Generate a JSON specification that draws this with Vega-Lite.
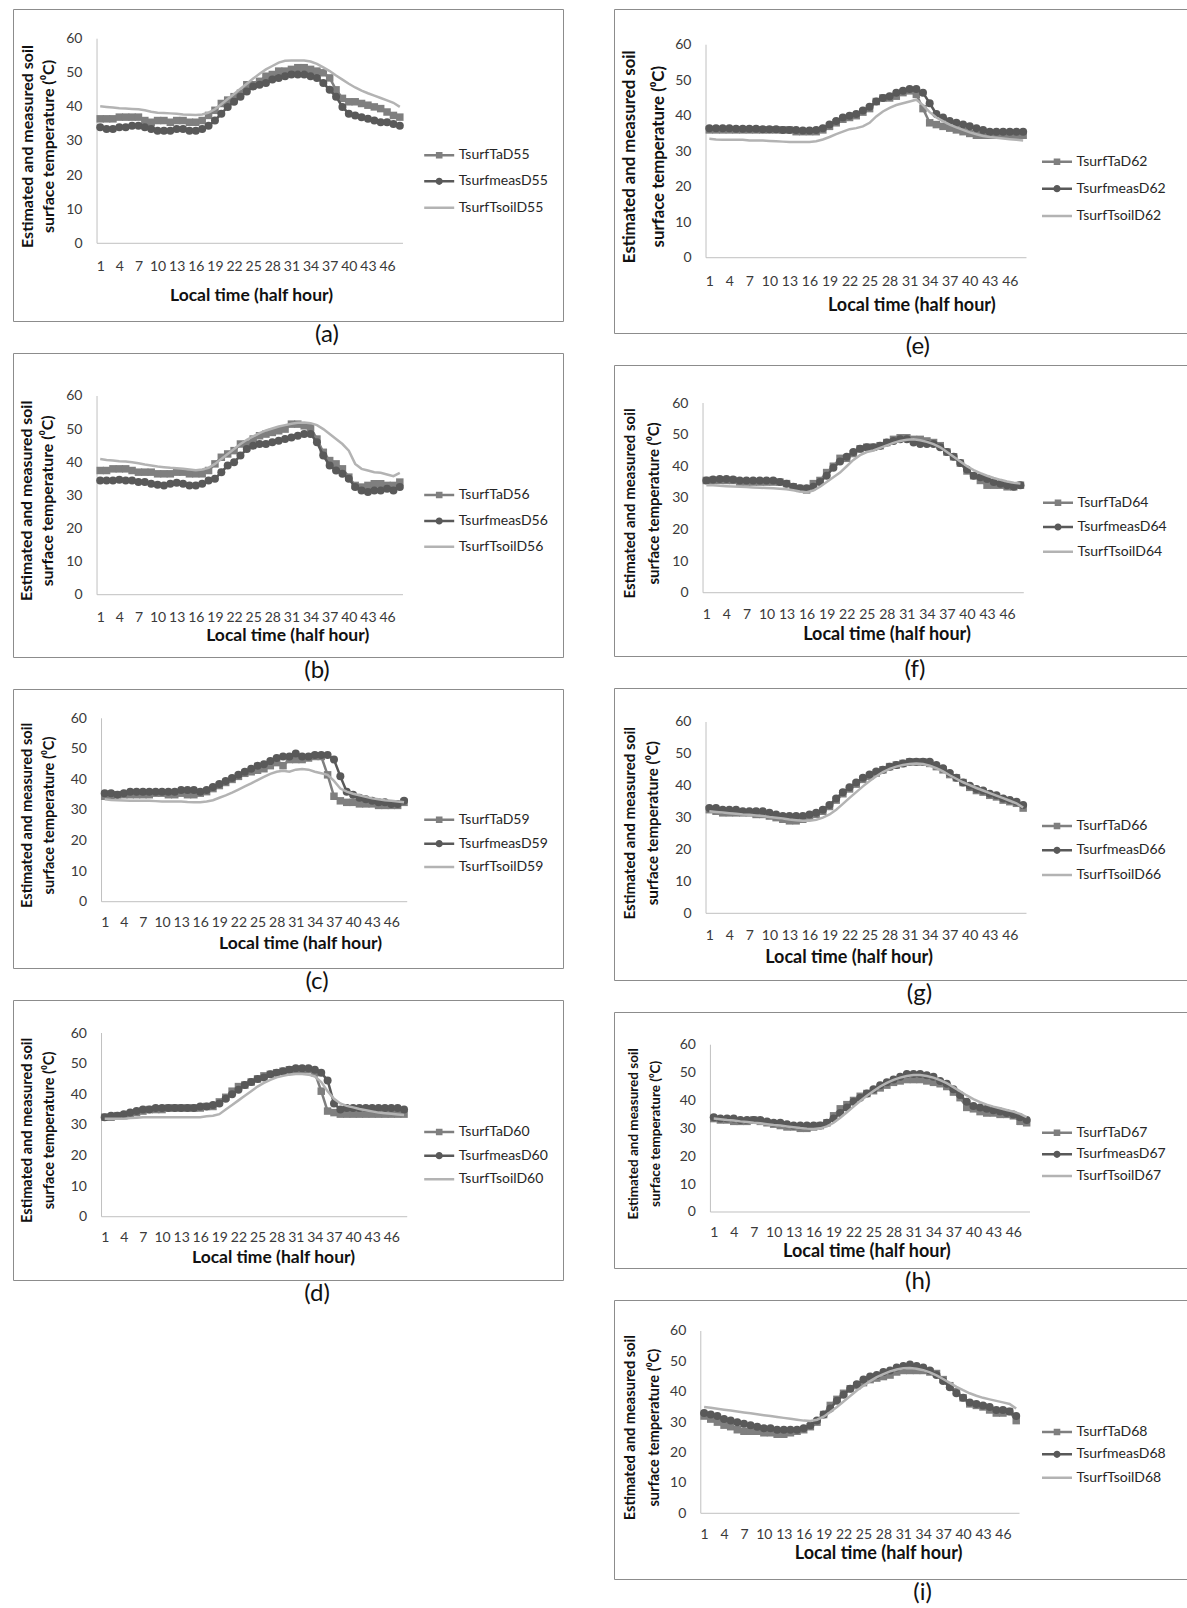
{
"$schema": "https://vega.github.io/schema/vega-lite/v6.json",
"background": "white",
"padding": {"left": 12, "top": 8, "right": 0, "bottom": 0},
"autosize": {"type": "pad"},
"spacing": 49,
"config": {
 "font": "Lato",
 "view": {"stroke": "#8c8c8c", "strokeWidth": 1},
 "axis": {"grid": false, "domain": false, "ticks": false, "labelFont": "Lato", "labelFontSize": 14, "labelColor": "#3a3a3a", "labelOverlap": false, "titleFont": "Lato", "titleFontWeight": "bold", "titleColor": "#111111"},
 "axisX": {"labelAngle": 0, "tickCount": 48},
 "axisY": {"labelPadding": 15},
 "legend": {"padding": 0, "symbolSize": 900, "symbolStrokeWidth": 2.5, "clipHeight": 14, "labelFont": "Lato", "labelFontSize": 14, "labelColor": "#262626", "labelOffset": 3},
 "title": {"font": "Lato", "fontSize": 24, "fontWeight": "normal", "color": "#111111"}
},
"datasets": {
"a": [
{"t":1,"Ta":36.5,"meas":34,"Tsoil":40.2},{"t":2,"Ta":36.5,"meas":33.5,"Tsoil":40},{"t":3,"Ta":36.5,"meas":33.5,"Tsoil":39.8},{"t":4,"Ta":37,"meas":34,"Tsoil":39.6},{"t":5,"Ta":37,"meas":34,"Tsoil":39.5},{"t":6,"Ta":37,"meas":34.5,"Tsoil":39.4},{"t":7,"Ta":37,"meas":34.5,"Tsoil":39.3},{"t":8,"Ta":36,"meas":34,"Tsoil":39},{"t":9,"Ta":35.5,"meas":33.5,"Tsoil":38.6},{"t":10,"Ta":36,"meas":33,"Tsoil":38.3},
{"t":11,"Ta":36,"meas":33,"Tsoil":38.2},{"t":12,"Ta":35.5,"meas":33,"Tsoil":38.1},{"t":13,"Ta":36,"meas":33.5,"Tsoil":38},{"t":14,"Ta":36,"meas":33.5,"Tsoil":37.8},{"t":15,"Ta":35.5,"meas":33,"Tsoil":37.7},{"t":16,"Ta":35.5,"meas":33,"Tsoil":37.6},{"t":17,"Ta":36,"meas":33.5,"Tsoil":37.8},{"t":18,"Ta":37.5,"meas":34.5,"Tsoil":38.3},{"t":19,"Ta":39,"meas":36,"Tsoil":39.3},{"t":20,"Ta":41,"meas":38,"Tsoil":40.8},
{"t":21,"Ta":42,"meas":40,"Tsoil":42.3},{"t":22,"Ta":43,"meas":41.5,"Tsoil":43.8},{"t":23,"Ta":44,"meas":43,"Tsoil":45.3},{"t":24,"Ta":46.5,"meas":44.5,"Tsoil":46.8},{"t":25,"Ta":46.5,"meas":46,"Tsoil":48.3},{"t":26,"Ta":47.5,"meas":46.5,"Tsoil":49.7},{"t":27,"Ta":49,"meas":47,"Tsoil":51},{"t":28,"Ta":49.5,"meas":48,"Tsoil":52},{"t":29,"Ta":50.5,"meas":48.5,"Tsoil":53},{"t":30,"Ta":50.5,"meas":49,"Tsoil":53.5},
{"t":31,"Ta":51,"meas":49.5,"Tsoil":53.6},{"t":32,"Ta":51.5,"meas":49.5,"Tsoil":53.6},{"t":33,"Ta":51.5,"meas":49.5,"Tsoil":53.6},{"t":34,"Ta":51,"meas":49,"Tsoil":53.3},{"t":35,"Ta":50.5,"meas":48.5,"Tsoil":52.6},{"t":36,"Ta":50,"meas":47,"Tsoil":51.6},{"t":37,"Ta":48.5,"meas":45,"Tsoil":50.5},{"t":38,"Ta":45,"meas":43,"Tsoil":49.2},{"t":39,"Ta":42.5,"meas":40,"Tsoil":48},{"t":40,"Ta":41.5,"meas":38,"Tsoil":46.8},
{"t":41,"Ta":41.5,"meas":37.5,"Tsoil":45.7},{"t":42,"Ta":41,"meas":37,"Tsoil":44.8},{"t":43,"Ta":40.5,"meas":36.5,"Tsoil":44},{"t":44,"Ta":40,"meas":36,"Tsoil":43.3},{"t":45,"Ta":39.5,"meas":35.5,"Tsoil":42.6},{"t":46,"Ta":38.5,"meas":35.5,"Tsoil":41.9},{"t":47,"Ta":37.5,"meas":35,"Tsoil":41.2},{"t":48,"Ta":37,"meas":34.5,"Tsoil":40}
],
"b": [
{"t":1,"Ta":37.5,"meas":34.5,"Tsoil":41},{"t":2,"Ta":37.5,"meas":34.5,"Tsoil":40.7},{"t":3,"Ta":38,"meas":34.5,"Tsoil":40.5},{"t":4,"Ta":38,"meas":34.7,"Tsoil":40.3},{"t":5,"Ta":38,"meas":34.5,"Tsoil":40.2},{"t":6,"Ta":37.5,"meas":34.5,"Tsoil":40},{"t":7,"Ta":37,"meas":34,"Tsoil":39.7},{"t":8,"Ta":37,"meas":34,"Tsoil":39.3},{"t":9,"Ta":37,"meas":33.5,"Tsoil":39},{"t":10,"Ta":36.5,"meas":33.2,"Tsoil":38.7},
{"t":11,"Ta":36.5,"meas":33,"Tsoil":38.5},{"t":12,"Ta":36.5,"meas":33.5,"Tsoil":38.3},{"t":13,"Ta":37,"meas":33.8,"Tsoil":38.2},{"t":14,"Ta":37,"meas":33.5,"Tsoil":38},{"t":15,"Ta":36.5,"meas":33,"Tsoil":37.8},{"t":16,"Ta":36.5,"meas":33,"Tsoil":37.6},{"t":17,"Ta":36.5,"meas":33.5,"Tsoil":37.8},{"t":18,"Ta":37.5,"meas":34.5,"Tsoil":38.3},{"t":19,"Ta":39.5,"meas":35,"Tsoil":39.5},{"t":20,"Ta":41.5,"meas":37,"Tsoil":41},
{"t":21,"Ta":42.5,"meas":39,"Tsoil":42.5},{"t":22,"Ta":43.5,"meas":40,"Tsoil":44},{"t":23,"Ta":45.5,"meas":42,"Tsoil":45.5},{"t":24,"Ta":45.5,"meas":44,"Tsoil":46.8},{"t":25,"Ta":47,"meas":45,"Tsoil":47.8},{"t":26,"Ta":48,"meas":45.5,"Tsoil":48.8},{"t":27,"Ta":48.5,"meas":45.5,"Tsoil":49.6},{"t":28,"Ta":49,"meas":46,"Tsoil":50.2},{"t":29,"Ta":49.5,"meas":46.5,"Tsoil":50.8},{"t":30,"Ta":50,"meas":47,"Tsoil":51.2},
{"t":31,"Ta":51.5,"meas":47.5,"Tsoil":51.6},{"t":32,"Ta":51.5,"meas":48,"Tsoil":51.9},{"t":33,"Ta":51,"meas":48.5,"Tsoil":52},{"t":34,"Ta":50.5,"meas":48.5,"Tsoil":51.8},{"t":35,"Ta":47,"meas":46,"Tsoil":51.2},{"t":36,"Ta":43,"meas":42,"Tsoil":50},{"t":37,"Ta":40.5,"meas":39,"Tsoil":48.5},{"t":38,"Ta":39.5,"meas":37.5,"Tsoil":47},{"t":39,"Ta":38,"meas":36.5,"Tsoil":45.5},{"t":40,"Ta":35.5,"meas":35,"Tsoil":43.5},
{"t":41,"Ta":33,"meas":32.5,"Tsoil":39.5},{"t":42,"Ta":32.5,"meas":31.5,"Tsoil":38},{"t":43,"Ta":33,"meas":31,"Tsoil":37.5},{"t":44,"Ta":33.5,"meas":31.5,"Tsoil":37},{"t":45,"Ta":33.5,"meas":31.5,"Tsoil":36.8},{"t":46,"Ta":33,"meas":32,"Tsoil":36.3},{"t":47,"Ta":33,"meas":31.5,"Tsoil":35.8},{"t":48,"Ta":34,"meas":32.5,"Tsoil":36.8}
],
"c": [
{"t":1,"Ta":34.5,"meas":35.5,"Tsoil":33.5},{"t":2,"Ta":34.5,"meas":35.5,"Tsoil":33.3},{"t":3,"Ta":35,"meas":35,"Tsoil":33.2},{"t":4,"Ta":35,"meas":35.5,"Tsoil":33.1},{"t":5,"Ta":35,"meas":36,"Tsoil":33},{"t":6,"Ta":35,"meas":36,"Tsoil":33},{"t":7,"Ta":35,"meas":36,"Tsoil":33},{"t":8,"Ta":35,"meas":36,"Tsoil":33},{"t":9,"Ta":35.5,"meas":36,"Tsoil":32.9},{"t":10,"Ta":35.5,"meas":36,"Tsoil":32.8},
{"t":11,"Ta":35,"meas":36,"Tsoil":32.8},{"t":12,"Ta":35,"meas":36,"Tsoil":32.8},{"t":13,"Ta":35.5,"meas":36.5,"Tsoil":32.8},{"t":14,"Ta":35,"meas":36.5,"Tsoil":32.6},{"t":15,"Ta":35,"meas":36.5,"Tsoil":32.5},{"t":16,"Ta":35.5,"meas":36,"Tsoil":32.5},{"t":17,"Ta":36,"meas":36.5,"Tsoil":32.8},{"t":18,"Ta":37,"meas":37.5,"Tsoil":33.2},{"t":19,"Ta":38,"meas":38.5,"Tsoil":34},{"t":20,"Ta":39,"meas":39.5,"Tsoil":34.8},
{"t":21,"Ta":40,"meas":40.5,"Tsoil":35.7},{"t":22,"Ta":41,"meas":41.5,"Tsoil":36.7},{"t":23,"Ta":42,"meas":42.5,"Tsoil":37.7},{"t":24,"Ta":42.5,"meas":43.5,"Tsoil":38.7},{"t":25,"Ta":43,"meas":44.5,"Tsoil":39.8},{"t":26,"Ta":43.5,"meas":45,"Tsoil":40.8},{"t":27,"Ta":44.5,"meas":46,"Tsoil":41.8},{"t":28,"Ta":45.5,"meas":47,"Tsoil":42.5},{"t":29,"Ta":44.5,"meas":47.5,"Tsoil":42.8},{"t":30,"Ta":46.5,"meas":47.5,"Tsoil":42.5},
{"t":31,"Ta":46.5,"meas":48.5,"Tsoil":43.2},{"t":32,"Ta":46.5,"meas":47.5,"Tsoil":43.4},{"t":33,"Ta":47,"meas":47.5,"Tsoil":43.2},{"t":34,"Ta":47.5,"meas":48,"Tsoil":42.5},{"t":35,"Ta":47.5,"meas":48,"Tsoil":42},{"t":36,"Ta":41.5,"meas":48,"Tsoil":41.5},{"t":37,"Ta":34.5,"meas":46.5,"Tsoil":39.5},{"t":38,"Ta":33,"meas":41,"Tsoil":37},{"t":39,"Ta":32.5,"meas":36,"Tsoil":36},{"t":40,"Ta":32.5,"meas":35,"Tsoil":35.3},
{"t":41,"Ta":32,"meas":34,"Tsoil":34.8},{"t":42,"Ta":32,"meas":33.5,"Tsoil":34.3},{"t":43,"Ta":32,"meas":33,"Tsoil":33.8},{"t":44,"Ta":31.5,"meas":32.5,"Tsoil":33.5},{"t":45,"Ta":31.5,"meas":32.5,"Tsoil":33.2},{"t":46,"Ta":31.5,"meas":32,"Tsoil":33},{"t":47,"Ta":31.5,"meas":32,"Tsoil":32.8},{"t":48,"Ta":32.5,"meas":33,"Tsoil":32.5}
],
"d": [
{"t":1,"Ta":32.5,"meas":32.5,"Tsoil":32},{"t":2,"Ta":32.5,"meas":33,"Tsoil":32},{"t":3,"Ta":33,"meas":33,"Tsoil":32},{"t":4,"Ta":33,"meas":33.5,"Tsoil":32},{"t":5,"Ta":33.5,"meas":34,"Tsoil":32.2},{"t":6,"Ta":34,"meas":34.5,"Tsoil":32.3},{"t":7,"Ta":34.5,"meas":35,"Tsoil":32.5},{"t":8,"Ta":35,"meas":35,"Tsoil":32.5},{"t":9,"Ta":35,"meas":35.5,"Tsoil":32.5},{"t":10,"Ta":35,"meas":35.5,"Tsoil":32.5},
{"t":11,"Ta":35.5,"meas":35.5,"Tsoil":32.5},{"t":12,"Ta":35.5,"meas":35.5,"Tsoil":32.5},{"t":13,"Ta":35.5,"meas":35.5,"Tsoil":32.5},{"t":14,"Ta":35.5,"meas":35.5,"Tsoil":32.5},{"t":15,"Ta":35.5,"meas":35.5,"Tsoil":32.5},{"t":16,"Ta":35.5,"meas":36,"Tsoil":32.5},{"t":17,"Ta":36,"meas":36,"Tsoil":32.8},{"t":18,"Ta":36,"meas":36.5,"Tsoil":33},{"t":19,"Ta":37.5,"meas":37,"Tsoil":33.5},{"t":20,"Ta":39,"meas":38.5,"Tsoil":35},
{"t":21,"Ta":41,"meas":40,"Tsoil":36.5},{"t":22,"Ta":42.5,"meas":41.5,"Tsoil":38},{"t":23,"Ta":43,"meas":43,"Tsoil":39.5},{"t":24,"Ta":44,"meas":44,"Tsoil":41},{"t":25,"Ta":45,"meas":45,"Tsoil":42.5},{"t":26,"Ta":46,"meas":45.5,"Tsoil":43.7},{"t":27,"Ta":46.5,"meas":46.5,"Tsoil":44.7},{"t":28,"Ta":47,"meas":47,"Tsoil":45.5},{"t":29,"Ta":47.5,"meas":47.5,"Tsoil":46},{"t":30,"Ta":48,"meas":48,"Tsoil":46.4},
{"t":31,"Ta":48,"meas":48.5,"Tsoil":46.6},{"t":32,"Ta":48,"meas":48.5,"Tsoil":46.6},{"t":33,"Ta":48,"meas":48.5,"Tsoil":46.4},{"t":34,"Ta":47,"meas":48,"Tsoil":45.8},{"t":35,"Ta":41,"meas":47,"Tsoil":44},{"t":36,"Ta":34.5,"meas":44.5,"Tsoil":41},{"t":37,"Ta":34,"meas":37,"Tsoil":38.5},{"t":38,"Ta":33.5,"meas":35,"Tsoil":37},{"t":39,"Ta":33.5,"meas":35.5,"Tsoil":36.2},{"t":40,"Ta":33.5,"meas":35.5,"Tsoil":35.7},
{"t":41,"Ta":33.5,"meas":35.5,"Tsoil":35.2},{"t":42,"Ta":33.5,"meas":35.5,"Tsoil":34.8},{"t":43,"Ta":33.5,"meas":35.5,"Tsoil":34.4},{"t":44,"Ta":33.5,"meas":35.5,"Tsoil":34},{"t":45,"Ta":33.5,"meas":35.5,"Tsoil":33.8},{"t":46,"Ta":33.5,"meas":35.5,"Tsoil":33.6},{"t":47,"Ta":33.5,"meas":35.5,"Tsoil":33.4},{"t":48,"Ta":33.5,"meas":35,"Tsoil":33.2}
],
"e": [
{"t":1,"Ta":36,"meas":36.5,"Tsoil":33.5},{"t":2,"Ta":36,"meas":36.5,"Tsoil":33.3},{"t":3,"Ta":36,"meas":36.5,"Tsoil":33.2},{"t":4,"Ta":36,"meas":36.5,"Tsoil":33.2},{"t":5,"Ta":36,"meas":36.3,"Tsoil":33.2},{"t":6,"Ta":36,"meas":36.3,"Tsoil":33.2},{"t":7,"Ta":36,"meas":36.3,"Tsoil":33},{"t":8,"Ta":36,"meas":36.3,"Tsoil":33},{"t":9,"Ta":36,"meas":36.2,"Tsoil":33},{"t":10,"Ta":36,"meas":36.2,"Tsoil":32.9},
{"t":11,"Ta":36,"meas":36.2,"Tsoil":32.8},{"t":12,"Ta":36,"meas":36,"Tsoil":32.7},{"t":13,"Ta":36,"meas":36,"Tsoil":32.6},{"t":14,"Ta":35.5,"meas":36,"Tsoil":32.6},{"t":15,"Ta":35.5,"meas":35.8,"Tsoil":32.6},{"t":16,"Ta":35.5,"meas":35.8,"Tsoil":32.6},{"t":17,"Ta":35.5,"meas":36,"Tsoil":32.8},{"t":18,"Ta":36,"meas":36.5,"Tsoil":33.3},{"t":19,"Ta":37,"meas":37.5,"Tsoil":34},{"t":20,"Ta":38,"meas":38.5,"Tsoil":34.8},
{"t":21,"Ta":39,"meas":39.5,"Tsoil":35.5},{"t":22,"Ta":39.5,"meas":40,"Tsoil":36.2},{"t":23,"Ta":40,"meas":40.5,"Tsoil":36.5},{"t":24,"Ta":41,"meas":41.5,"Tsoil":37},{"t":25,"Ta":42,"meas":42.5,"Tsoil":38},{"t":26,"Ta":44,"meas":44,"Tsoil":39.8},{"t":27,"Ta":45,"meas":45,"Tsoil":41.2},{"t":28,"Ta":45,"meas":45.5,"Tsoil":42.2},{"t":29,"Ta":45.5,"meas":46.5,"Tsoil":43},{"t":30,"Ta":46.5,"meas":47,"Tsoil":43.5},
{"t":31,"Ta":47,"meas":47.5,"Tsoil":44},{"t":32,"Ta":46,"meas":47.5,"Tsoil":44.5},{"t":33,"Ta":42,"meas":46.5,"Tsoil":43},{"t":34,"Ta":38,"meas":43.5,"Tsoil":41},{"t":35,"Ta":37.5,"meas":40.5,"Tsoil":39.5},{"t":36,"Ta":37,"meas":39.5,"Tsoil":38.5},{"t":37,"Ta":36.5,"meas":38.5,"Tsoil":37.5},{"t":38,"Ta":36,"meas":38,"Tsoil":36.7},{"t":39,"Ta":35.5,"meas":37.5,"Tsoil":36},{"t":40,"Ta":35,"meas":37,"Tsoil":35.3},
{"t":41,"Ta":34.5,"meas":36.5,"Tsoil":34.8},{"t":42,"Ta":34.5,"meas":36,"Tsoil":34.3},{"t":43,"Ta":34.5,"meas":35.5,"Tsoil":34},{"t":44,"Ta":34.5,"meas":35.5,"Tsoil":33.8},{"t":45,"Ta":34.5,"meas":35.5,"Tsoil":33.6},{"t":46,"Ta":34.5,"meas":35.5,"Tsoil":33.4},{"t":47,"Ta":34.5,"meas":35.5,"Tsoil":33.2},{"t":48,"Ta":34.5,"meas":35.5,"Tsoil":33}
],
"f": [
{"t":1,"Ta":35.5,"meas":35.5,"Tsoil":34},{"t":2,"Ta":35.5,"meas":35.8,"Tsoil":34},{"t":3,"Ta":35.5,"meas":36,"Tsoil":33.8},{"t":4,"Ta":35.5,"meas":36,"Tsoil":33.7},{"t":5,"Ta":35.5,"meas":35.8,"Tsoil":33.6},{"t":6,"Ta":35,"meas":35.5,"Tsoil":33.5},{"t":7,"Ta":35,"meas":35.5,"Tsoil":33.4},{"t":8,"Ta":35,"meas":35.5,"Tsoil":33.3},{"t":9,"Ta":35,"meas":35.5,"Tsoil":33.2},{"t":10,"Ta":35,"meas":35.5,"Tsoil":33.1},
{"t":11,"Ta":35,"meas":35.5,"Tsoil":33},{"t":12,"Ta":35,"meas":35,"Tsoil":32.9},{"t":13,"Ta":34.5,"meas":34.5,"Tsoil":32.7},{"t":14,"Ta":33.5,"meas":33.5,"Tsoil":32.4},{"t":15,"Ta":33,"meas":33,"Tsoil":32},{"t":16,"Ta":32.5,"meas":33,"Tsoil":31.8},{"t":17,"Ta":34.5,"meas":33.5,"Tsoil":32.3},{"t":18,"Ta":35.5,"meas":35,"Tsoil":33.5},{"t":19,"Ta":38,"meas":37,"Tsoil":35},{"t":20,"Ta":40,"meas":39.5,"Tsoil":36.5},
{"t":21,"Ta":42.5,"meas":41.5,"Tsoil":38},{"t":22,"Ta":42.5,"meas":43,"Tsoil":40},{"t":23,"Ta":44,"meas":44.5,"Tsoil":42},{"t":24,"Ta":45.5,"meas":45.5,"Tsoil":43.5},{"t":25,"Ta":46,"meas":46,"Tsoil":44.5},{"t":26,"Ta":46,"meas":46,"Tsoil":45},{"t":27,"Ta":46.5,"meas":46.5,"Tsoil":45.8},{"t":28,"Ta":47.5,"meas":47.5,"Tsoil":46.6},{"t":29,"Ta":48.5,"meas":48,"Tsoil":47.4},{"t":30,"Ta":49,"meas":48.5,"Tsoil":48},
{"t":31,"Ta":49,"meas":48.5,"Tsoil":48.4},{"t":32,"Ta":48.5,"meas":47.5,"Tsoil":48.5},{"t":33,"Ta":48.5,"meas":47,"Tsoil":48.2},{"t":34,"Ta":48,"meas":47,"Tsoil":47.7},{"t":35,"Ta":47.5,"meas":47,"Tsoil":47},{"t":36,"Ta":46.5,"meas":46,"Tsoil":46},{"t":37,"Ta":44.5,"meas":44.5,"Tsoil":44.5},{"t":38,"Ta":43,"meas":43,"Tsoil":43},{"t":39,"Ta":41,"meas":41,"Tsoil":41.5},{"t":40,"Ta":38.5,"meas":39,"Tsoil":40},
{"t":41,"Ta":37,"meas":37,"Tsoil":38.8},{"t":42,"Ta":35.5,"meas":36.5,"Tsoil":37.8},{"t":43,"Ta":34,"meas":36,"Tsoil":37},{"t":44,"Ta":34,"meas":35,"Tsoil":36.3},{"t":45,"Ta":34,"meas":34.5,"Tsoil":35.7},{"t":46,"Ta":33.5,"meas":34,"Tsoil":35.2},{"t":47,"Ta":33.5,"meas":33.5,"Tsoil":34.8},{"t":48,"Ta":34,"meas":34,"Tsoil":34.5}
],
"g": [
{"t":1,"Ta":32.5,"meas":33,"Tsoil":32},{"t":2,"Ta":32,"meas":33,"Tsoil":31.8},{"t":3,"Ta":31.5,"meas":32.5,"Tsoil":31.6},{"t":4,"Ta":31.5,"meas":32.5,"Tsoil":31.4},{"t":5,"Ta":31.5,"meas":32.5,"Tsoil":31.2},{"t":6,"Ta":31.5,"meas":32,"Tsoil":31},{"t":7,"Ta":31.5,"meas":32,"Tsoil":30.9},{"t":8,"Ta":31,"meas":32,"Tsoil":30.7},{"t":9,"Ta":31,"meas":32,"Tsoil":30.5},{"t":10,"Ta":30.5,"meas":31.5,"Tsoil":30.2},
{"t":11,"Ta":30,"meas":31,"Tsoil":30},{"t":12,"Ta":29.5,"meas":30.5,"Tsoil":29.7},{"t":13,"Ta":29,"meas":30.5,"Tsoil":29.4},{"t":14,"Ta":29,"meas":30.5,"Tsoil":29.2},{"t":15,"Ta":29.5,"meas":30.5,"Tsoil":29},{"t":16,"Ta":30.5,"meas":31,"Tsoil":29},{"t":17,"Ta":31,"meas":31.5,"Tsoil":29.3},{"t":18,"Ta":32,"meas":32.5,"Tsoil":30},{"t":19,"Ta":33.5,"meas":34,"Tsoil":31},{"t":20,"Ta":35.5,"meas":36,"Tsoil":32.5},
{"t":21,"Ta":37.5,"meas":38,"Tsoil":34.3},{"t":22,"Ta":39,"meas":39.5,"Tsoil":36.2},{"t":23,"Ta":40.5,"meas":41,"Tsoil":38},{"t":24,"Ta":42,"meas":42.5,"Tsoil":39.8},{"t":25,"Ta":43,"meas":43.5,"Tsoil":41.5},{"t":26,"Ta":44,"meas":44.5,"Tsoil":43},{"t":27,"Ta":45,"meas":45,"Tsoil":44.3},{"t":28,"Ta":46,"meas":46,"Tsoil":45.3},{"t":29,"Ta":46.5,"meas":46.5,"Tsoil":46},{"t":30,"Ta":47,"meas":47,"Tsoil":46.5},
{"t":31,"Ta":47.5,"meas":47.5,"Tsoil":46.8},{"t":32,"Ta":47.5,"meas":47.5,"Tsoil":47},{"t":33,"Ta":47.5,"meas":47.5,"Tsoil":46.8},{"t":34,"Ta":47,"meas":47.5,"Tsoil":46.3},{"t":35,"Ta":46,"meas":46.5,"Tsoil":45.5},{"t":36,"Ta":45,"meas":45.5,"Tsoil":44.5},{"t":37,"Ta":43.5,"meas":44,"Tsoil":43.3},{"t":38,"Ta":42.5,"meas":42.5,"Tsoil":42.2},{"t":39,"Ta":41,"meas":41,"Tsoil":41.1},{"t":40,"Ta":39.5,"meas":40,"Tsoil":40.2},
{"t":41,"Ta":38.5,"meas":39,"Tsoil":39.3},{"t":42,"Ta":38,"meas":38.5,"Tsoil":38.5},{"t":43,"Ta":37,"meas":37.5,"Tsoil":37.7},{"t":44,"Ta":36.5,"meas":37,"Tsoil":36.9},{"t":45,"Ta":35.5,"meas":36,"Tsoil":36.1},{"t":46,"Ta":35,"meas":35.5,"Tsoil":35.3},{"t":47,"Ta":34.5,"meas":35,"Tsoil":34.5},{"t":48,"Ta":33,"meas":34,"Tsoil":33.2}
],
"h": [
{"t":1,"Ta":33.5,"meas":34,"Tsoil":33.5},{"t":2,"Ta":33,"meas":33.5,"Tsoil":33.3},{"t":3,"Ta":33,"meas":33.5,"Tsoil":33},{"t":4,"Ta":32.5,"meas":33.5,"Tsoil":32.8},{"t":5,"Ta":32.5,"meas":33,"Tsoil":32.5},{"t":6,"Ta":32.5,"meas":33,"Tsoil":32.3},{"t":7,"Ta":33,"meas":33,"Tsoil":32},{"t":8,"Ta":32.5,"meas":33,"Tsoil":31.8},{"t":9,"Ta":32,"meas":32.5,"Tsoil":31.5},{"t":10,"Ta":31.5,"meas":32,"Tsoil":31.2},
{"t":11,"Ta":31,"meas":32,"Tsoil":31},{"t":12,"Ta":30.5,"meas":31.5,"Tsoil":30.7},{"t":13,"Ta":30.5,"meas":31,"Tsoil":30.4},{"t":14,"Ta":30,"meas":31,"Tsoil":30.1},{"t":15,"Ta":30,"meas":31,"Tsoil":29.9},{"t":16,"Ta":30.5,"meas":31,"Tsoil":29.8},{"t":17,"Ta":31,"meas":31,"Tsoil":30},{"t":18,"Ta":32,"meas":32,"Tsoil":30.7},{"t":19,"Ta":34.5,"meas":33.5,"Tsoil":32},{"t":20,"Ta":37,"meas":35.5,"Tsoil":33.8},
{"t":21,"Ta":38.5,"meas":37.5,"Tsoil":35.8},{"t":22,"Ta":40,"meas":39.5,"Tsoil":37.8},{"t":23,"Ta":41.5,"meas":41,"Tsoil":39.8},{"t":24,"Ta":42.5,"meas":42.5,"Tsoil":41.7},{"t":25,"Ta":43.5,"meas":44,"Tsoil":43.4},{"t":26,"Ta":44.5,"meas":45.5,"Tsoil":45},{"t":27,"Ta":45.5,"meas":46.5,"Tsoil":46.3},{"t":28,"Ta":46.5,"meas":47.5,"Tsoil":47.4},{"t":29,"Ta":47,"meas":48.5,"Tsoil":48.2},{"t":30,"Ta":47.5,"meas":49.5,"Tsoil":48.8},
{"t":31,"Ta":47.5,"meas":49.5,"Tsoil":49.1},{"t":32,"Ta":47.5,"meas":49.5,"Tsoil":49.1},{"t":33,"Ta":47,"meas":49,"Tsoil":48.8},{"t":34,"Ta":46.5,"meas":48.5,"Tsoil":48.2},{"t":35,"Ta":46,"meas":47,"Tsoil":47.3},{"t":36,"Ta":45,"meas":46,"Tsoil":46.2},{"t":37,"Ta":43,"meas":44,"Tsoil":44.8},{"t":38,"Ta":41,"meas":42,"Tsoil":43.3},{"t":39,"Ta":37.5,"meas":39.5,"Tsoil":41.8},{"t":40,"Ta":37,"meas":38,"Tsoil":40.5},
{"t":41,"Ta":36,"meas":37.5,"Tsoil":39.4},{"t":42,"Ta":35.5,"meas":37,"Tsoil":38.5},{"t":43,"Ta":35.5,"meas":36.5,"Tsoil":37.8},{"t":44,"Ta":35,"meas":36,"Tsoil":37.2},{"t":45,"Ta":35,"meas":35.5,"Tsoil":36.6},{"t":46,"Ta":34.5,"meas":35,"Tsoil":36},{"t":47,"Ta":32.5,"meas":34,"Tsoil":35.2},{"t":48,"Ta":32,"meas":33,"Tsoil":34}
],
"i": [
{"t":1,"Ta":32,"meas":33,"Tsoil":35},{"t":2,"Ta":31,"meas":32.5,"Tsoil":34.7},{"t":3,"Ta":30,"meas":32,"Tsoil":34.4},{"t":4,"Ta":29,"meas":31,"Tsoil":34.1},{"t":5,"Ta":28.5,"meas":30.5,"Tsoil":33.8},{"t":6,"Ta":27.5,"meas":30,"Tsoil":33.5},{"t":7,"Ta":27,"meas":29.5,"Tsoil":33.2},{"t":8,"Ta":27,"meas":29,"Tsoil":32.9},{"t":9,"Ta":27,"meas":28.5,"Tsoil":32.6},{"t":10,"Ta":26.5,"meas":28,"Tsoil":32.3},
{"t":11,"Ta":26.5,"meas":28,"Tsoil":32},{"t":12,"Ta":26,"meas":27.5,"Tsoil":31.7},{"t":13,"Ta":26,"meas":27.5,"Tsoil":31.4},{"t":14,"Ta":26.5,"meas":27.5,"Tsoil":31.1},{"t":15,"Ta":27,"meas":27.5,"Tsoil":30.8},{"t":16,"Ta":27.5,"meas":28,"Tsoil":30.5},{"t":17,"Ta":28.5,"meas":29,"Tsoil":30.4},{"t":18,"Ta":30,"meas":30.5,"Tsoil":30.8},{"t":19,"Ta":32.5,"meas":32.5,"Tsoil":31.8},{"t":20,"Ta":35.5,"meas":34.5,"Tsoil":33.3},
{"t":21,"Ta":37.5,"meas":37,"Tsoil":35},{"t":22,"Ta":39.5,"meas":39,"Tsoil":36.8},{"t":23,"Ta":41,"meas":41,"Tsoil":38.6},{"t":24,"Ta":42,"meas":42.5,"Tsoil":40.4},{"t":25,"Ta":43,"meas":44,"Tsoil":42},{"t":26,"Ta":44,"meas":45,"Tsoil":43.5},{"t":27,"Ta":44.5,"meas":45.5,"Tsoil":44.8},{"t":28,"Ta":45,"meas":46.5,"Tsoil":45.8},{"t":29,"Ta":45.5,"meas":47,"Tsoil":46.7},{"t":30,"Ta":46.5,"meas":48,"Tsoil":47.3},
{"t":31,"Ta":47,"meas":48.5,"Tsoil":47.7},{"t":32,"Ta":47,"meas":49,"Tsoil":47.8},{"t":33,"Ta":47,"meas":48.5,"Tsoil":47.6},{"t":34,"Ta":47,"meas":48,"Tsoil":47.1},{"t":35,"Ta":46.5,"meas":47,"Tsoil":46.4},{"t":36,"Ta":46,"meas":45.5,"Tsoil":45.4},{"t":37,"Ta":44,"meas":43.5,"Tsoil":44.2},{"t":38,"Ta":42,"meas":41.5,"Tsoil":42.9},{"t":39,"Ta":40,"meas":39.5,"Tsoil":41.6},{"t":40,"Ta":38,"meas":38,"Tsoil":40.5},
{"t":41,"Ta":36,"meas":36.5,"Tsoil":39.5},{"t":42,"Ta":35.5,"meas":36,"Tsoil":38.7},{"t":43,"Ta":35,"meas":35.5,"Tsoil":38},{"t":44,"Ta":34,"meas":35,"Tsoil":37.5},{"t":45,"Ta":33,"meas":34,"Tsoil":37},{"t":46,"Ta":33,"meas":34,"Tsoil":36.5},{"t":47,"Ta":33.5,"meas":33.5,"Tsoil":36},{"t":48,"Ta":30.5,"meas":32,"Tsoil":34.5}
]
},
"hconcat": [
{"spacing": 32, "bounds": "flush", "vconcat": [
{"width": 550, "height": 312,
 "title": {"text": "(a)", "orient": "bottom", "anchor": "middle", "dx": 39, "offset": 2},
 "data": {"name": "a"},
 "transform": [{"fold": ["Ta", "meas", "Tsoil"], "as": ["series", "temp"]}],
 "resolve": {"scale": {"color": "independent"}, "legend": {"color": "independent"}},
 "layer": [
  {"transform": [{"filter": "datum.series==='Ta'"}], "mark": {"type": "line", "strokeWidth": 2.5, "color": "#7f7f7f"}, "encoding": {
   "x": {"field": "t", "type": "quantitative", "scale": {"domain": [-12.68, 73.6], "nice": false, "zero": false}, "axis": {"title": "Local time (half hour)", "offset": -77.7, "values": [1,4,7,10,13,16,19,22,25,28,31,34,37,40,43,46], "tickCount": 48, "labelOverlap": false, "labelPadding": 16, "titleX": 238, "titleY": 51.7, "titleBaseline": "middle", "titleFontSize": 17.5}},
   "y": {"field": "temp", "type": "quantitative", "scale": {"domain": [-22.79, 68.71], "nice": false, "zero": false}, "axis": {"title": ["Estimated and measured soil", "surface temperature (⁰C)"], "offset": -84, "values": [0,10,20,30,40,50,60], "titleX": -69.6, "titleY": 137, "titleBaseline": "middle", "titleAngle": -90, "titleFontSize": 16, "titleLineHeight": 21}}}},
  {"transform": [{"filter": "datum.t===1 && datum.series==='Ta'"}], "mark": {"type": "rule", "strokeWidth": 1, "color": "#c0c0c0"}, "encoding": {"x": {"datum": 0.5, "type": "quantitative"}, "y": {"datum": 0, "type": "quantitative"}, "y2": {"datum": 60}}},
  {"transform": [{"filter": "datum.t===1 && datum.series==='Ta'"}], "mark": {"type": "rule", "strokeWidth": 1, "color": "#c0c0c0"}, "encoding": {"x": {"datum": 0.5, "type": "quantitative"}, "x2": {"datum": 48.5}, "y": {"datum": 0, "type": "quantitative"}}},
  {"transform": [{"filter": "datum.series==='Ta'"}], "mark": {"type": "point", "shape": "square", "size": 56, "filled": true, "opacity": 1}, "encoding": {"x": {"field": "t", "type": "quantitative"}, "y": {"field": "temp", "type": "quantitative"}, "color": {"field": "series", "type": "nominal", "scale": {"domain": ["Ta"], "range": ["#7f7f7f"]}, "legend": {"orient": "none", "title": null, "legendX": 409.7, "legendY": 139.3, "symbolType": "M-1,-0.08L1,-0.08L1,0.08L-1,0.08ZM-0.22,-0.22L0.22,-0.22L0.22,0.22L-0.22,0.22Z", "labelExpr": "'TsurfTaD55'"}}}},
  {"transform": [{"filter": "datum.series==='meas'"}], "mark": {"type": "line", "strokeWidth": 2.5, "color": "#595959"}, "encoding": {"x": {"field": "t", "type": "quantitative"}, "y": {"field": "temp", "type": "quantitative"}}},
  {"transform": [{"filter": "datum.series==='meas'"}], "mark": {"type": "point", "shape": "circle", "size": 64, "filled": true, "opacity": 1}, "encoding": {"x": {"field": "t", "type": "quantitative"}, "y": {"field": "temp", "type": "quantitative"}, "color": {"field": "series", "type": "nominal", "scale": {"domain": ["meas"], "range": ["#595959"]}, "legend": {"orient": "none", "title": null, "legendX": 409.7, "legendY": 165.3, "symbolType": "M-1,-0.08L1,-0.08L1,0.08L-1,0.08ZM0.24,0A0.24,0.24,0,1,1,-0.24,0A0.24,0.24,0,1,1,0.24,0Z", "labelExpr": "'TsurfmeasD55'"}}}},
  {"transform": [{"filter": "datum.series==='Tsoil'"}], "mark": {"type": "line", "strokeWidth": 2.5}, "encoding": {"x": {"field": "t", "type": "quantitative"}, "y": {"field": "temp", "type": "quantitative"}, "color": {"field": "series", "type": "nominal", "scale": {"domain": ["Tsoil"], "range": ["#b3b3b3"]}, "legend": {"orient": "none", "title": null, "legendX": 409.7, "legendY": 191.7, "labelExpr": "'TsurfTsoilD55'"}}}}
 ]
},
{"width": 550, "height": 304,
 "title": {"text": "(b)", "orient": "bottom", "anchor": "middle", "dx": 29, "offset": 2},
 "data": {"name": "b"},
 "transform": [{"fold": ["Ta", "meas", "Tsoil"], "as": ["series", "temp"]}],
 "resolve": {"scale": {"color": "independent"}, "legend": {"color": "independent"}},
 "layer": [
  {"transform": [{"filter": "datum.series==='Ta'"}], "mark": {"type": "line", "strokeWidth": 2.5, "color": "#7f7f7f"}, "encoding": {
   "x": {"field": "t", "type": "quantitative", "scale": {"domain": [-12.68, 73.6], "nice": false, "zero": false}, "axis": {"title": "Local time (half hour)", "offset": -62.3, "values": [1,4,7,10,13,16,19,22,25,28,31,34,37,40,43,46], "tickCount": 48, "labelOverlap": false, "labelPadding": 16, "titleX": 274.2, "titleY": 40.6, "titleBaseline": "middle", "titleFontSize": 17.5}},
   "y": {"field": "temp", "type": "quantitative", "scale": {"domain": [-18.81, 72.98], "nice": false, "zero": false}, "axis": {"title": ["Estimated and measured soil", "surface temperature (⁰C)"], "offset": -84, "values": [0,10,20,30,40,50,60], "titleX": -70.2, "titleY": 147.4, "titleBaseline": "middle", "titleAngle": -90, "titleFontSize": 15.8, "titleLineHeight": 21}}}},
  {"transform": [{"filter": "datum.t===1 && datum.series==='Ta'"}], "mark": {"type": "rule", "strokeWidth": 1, "color": "#c0c0c0"}, "encoding": {"x": {"datum": 0.5, "type": "quantitative"}, "y": {"datum": 0, "type": "quantitative"}, "y2": {"datum": 60}}},
  {"transform": [{"filter": "datum.t===1 && datum.series==='Ta'"}], "mark": {"type": "rule", "strokeWidth": 1, "color": "#c0c0c0"}, "encoding": {"x": {"datum": 0.5, "type": "quantitative"}, "x2": {"datum": 48.5}, "y": {"datum": 0, "type": "quantitative"}}},
  {"transform": [{"filter": "datum.series==='Ta'"}], "mark": {"type": "point", "shape": "square", "size": 56, "filled": true, "opacity": 1}, "encoding": {"x": {"field": "t", "type": "quantitative"}, "y": {"field": "temp", "type": "quantitative"}, "color": {"field": "series", "type": "nominal", "scale": {"domain": ["Ta"], "range": ["#7f7f7f"]}, "legend": {"orient": "none", "title": null, "legendX": 409.7, "legendY": 135, "symbolType": "M-1,-0.08L1,-0.08L1,0.08L-1,0.08ZM-0.22,-0.22L0.22,-0.22L0.22,0.22L-0.22,0.22Z", "labelExpr": "'TsurfTaD56'"}}}},
  {"transform": [{"filter": "datum.series==='meas'"}], "mark": {"type": "line", "strokeWidth": 2.5, "color": "#595959"}, "encoding": {"x": {"field": "t", "type": "quantitative"}, "y": {"field": "temp", "type": "quantitative"}}},
  {"transform": [{"filter": "datum.series==='meas'"}], "mark": {"type": "point", "shape": "circle", "size": 64, "filled": true, "opacity": 1}, "encoding": {"x": {"field": "t", "type": "quantitative"}, "y": {"field": "temp", "type": "quantitative"}, "color": {"field": "series", "type": "nominal", "scale": {"domain": ["meas"], "range": ["#595959"]}, "legend": {"orient": "none", "title": null, "legendX": 409.7, "legendY": 161, "symbolType": "M-1,-0.08L1,-0.08L1,0.08L-1,0.08ZM0.24,0A0.24,0.24,0,1,1,-0.24,0A0.24,0.24,0,1,1,0.24,0Z", "labelExpr": "'TsurfmeasD56'"}}}},
  {"transform": [{"filter": "datum.series==='Tsoil'"}], "mark": {"type": "line", "strokeWidth": 2.5}, "encoding": {"x": {"field": "t", "type": "quantitative"}, "y": {"field": "temp", "type": "quantitative"}, "color": {"field": "series", "type": "nominal", "scale": {"domain": ["Tsoil"], "range": ["#b3b3b3"]}, "legend": {"orient": "none", "title": null, "legendX": 409.7, "legendY": 186.7, "labelExpr": "'TsurfTsoilD56'"}}}}
 ]
},
{"width": 550, "height": 279,
 "title": {"text": "(c)", "orient": "bottom", "anchor": "middle", "dx": 29, "offset": 2},
 "data": {"name": "c"},
 "transform": [{"fold": ["Ta", "meas", "Tsoil"], "as": ["series", "temp"]}],
 "resolve": {"scale": {"color": "independent"}, "legend": {"color": "independent"}},
 "layer": [
  {"transform": [{"filter": "datum.series==='Ta'"}], "mark": {"type": "line", "strokeWidth": 2.5, "color": "#7f7f7f"}, "encoding": {
   "x": {"field": "t", "type": "quantitative", "scale": {"domain": [-13.4, 72.96], "nice": false, "zero": false}, "axis": {"title": "Local time (half hour)", "offset": -66.3, "values": [1,4,7,10,13,16,19,22,25,28,31,34,37,40,43,46], "tickCount": 48, "labelOverlap": false, "labelPadding": 14, "titleX": 287, "titleY": 41.6, "titleBaseline": "middle", "titleFontSize": 17.5}},
   "y": {"field": "temp", "type": "quantitative", "scale": {"domain": [-21.69, 69.58], "nice": false, "zero": false}, "axis": {"title": ["Estimated and measured soil", "surface temperature (⁰C)"], "offset": -88.5, "values": [0,10,20,30,40,50,60], "titleX": -74.3, "titleY": 126, "titleBaseline": "middle", "titleAngle": -90, "titleFontSize": 14.6, "titleLineHeight": 22}}}},
  {"transform": [{"filter": "datum.t===1 && datum.series==='Ta'"}], "mark": {"type": "rule", "strokeWidth": 1, "color": "#c0c0c0"}, "encoding": {"x": {"datum": 0.5, "type": "quantitative"}, "y": {"datum": 0, "type": "quantitative"}, "y2": {"datum": 60}}},
  {"transform": [{"filter": "datum.t===1 && datum.series==='Ta'"}], "mark": {"type": "rule", "strokeWidth": 1, "color": "#c0c0c0"}, "encoding": {"x": {"datum": 0.5, "type": "quantitative"}, "x2": {"datum": 48.5}, "y": {"datum": 0, "type": "quantitative"}}},
  {"transform": [{"filter": "datum.series==='Ta'"}], "mark": {"type": "point", "shape": "square", "size": 56, "filled": true, "opacity": 1}, "encoding": {"x": {"field": "t", "type": "quantitative"}, "y": {"field": "temp", "type": "quantitative"}, "color": {"field": "series", "type": "nominal", "scale": {"domain": ["Ta"], "range": ["#7f7f7f"]}, "legend": {"orient": "none", "title": null, "legendX": 409.7, "legendY": 123.7, "symbolType": "M-1,-0.08L1,-0.08L1,0.08L-1,0.08ZM-0.22,-0.22L0.22,-0.22L0.22,0.22L-0.22,0.22Z", "labelExpr": "'TsurfTaD59'"}}}},
  {"transform": [{"filter": "datum.series==='meas'"}], "mark": {"type": "line", "strokeWidth": 2.5, "color": "#595959"}, "encoding": {"x": {"field": "t", "type": "quantitative"}, "y": {"field": "temp", "type": "quantitative"}}},
  {"transform": [{"filter": "datum.series==='meas'"}], "mark": {"type": "point", "shape": "circle", "size": 64, "filled": true, "opacity": 1}, "encoding": {"x": {"field": "t", "type": "quantitative"}, "y": {"field": "temp", "type": "quantitative"}, "color": {"field": "series", "type": "nominal", "scale": {"domain": ["meas"], "range": ["#595959"]}, "legend": {"orient": "none", "title": null, "legendX": 409.7, "legendY": 147.7, "symbolType": "M-1,-0.08L1,-0.08L1,0.08L-1,0.08ZM0.24,0A0.24,0.24,0,1,1,-0.24,0A0.24,0.24,0,1,1,0.24,0Z", "labelExpr": "'TsurfmeasD59'"}}}},
  {"transform": [{"filter": "datum.series==='Tsoil'"}], "mark": {"type": "line", "strokeWidth": 2.5}, "encoding": {"x": {"field": "t", "type": "quantitative"}, "y": {"field": "temp", "type": "quantitative"}, "color": {"field": "series", "type": "nominal", "scale": {"domain": ["Tsoil"], "range": ["#b3b3b3"]}, "legend": {"orient": "none", "title": null, "legendX": 409.7, "legendY": 171, "labelExpr": "'TsurfTsoilD59'"}}}}
 ]
},
{"width": 550, "height": 280,
 "title": {"text": "(d)", "orient": "bottom", "anchor": "middle", "dx": 29, "offset": 2},
 "data": {"name": "d"},
 "transform": [{"fold": ["Ta", "meas", "Tsoil"], "as": ["series", "temp"]}],
 "resolve": {"scale": {"color": "independent"}, "legend": {"color": "independent"}},
 "layer": [
  {"transform": [{"filter": "datum.series==='Ta'"}], "mark": {"type": "line", "strokeWidth": 2.5, "color": "#7f7f7f"}, "encoding": {
   "x": {"field": "t", "type": "quantitative", "scale": {"domain": [-13.4, 72.96], "nice": false, "zero": false}, "axis": {"title": "Local time (half hour)", "offset": -63.3, "values": [1,4,7,10,13,16,19,22,25,28,31,34,37,40,43,46], "tickCount": 48, "labelOverlap": false, "labelPadding": 14, "titleX": 260, "titleY": 41, "titleBaseline": "middle", "titleFontSize": 17.5}},
   "y": {"field": "temp", "type": "quantitative", "scale": {"domain": [-20.67, 70.78], "nice": false, "zero": false}, "axis": {"title": ["Estimated and measured soil", "surface temperature (⁰C)"], "offset": -88.5, "values": [0,10,20,30,40,50,60], "titleX": -74.3, "titleY": 129.9, "titleBaseline": "middle", "titleAngle": -90, "titleFontSize": 14.6, "titleLineHeight": 22}}}},
  {"transform": [{"filter": "datum.t===1 && datum.series==='Ta'"}], "mark": {"type": "rule", "strokeWidth": 1, "color": "#c0c0c0"}, "encoding": {"x": {"datum": 0.5, "type": "quantitative"}, "y": {"datum": 0, "type": "quantitative"}, "y2": {"datum": 60}}},
  {"transform": [{"filter": "datum.t===1 && datum.series==='Ta'"}], "mark": {"type": "rule", "strokeWidth": 1, "color": "#c0c0c0"}, "encoding": {"x": {"datum": 0.5, "type": "quantitative"}, "x2": {"datum": 48.5}, "y": {"datum": 0, "type": "quantitative"}}},
  {"transform": [{"filter": "datum.series==='Ta'"}], "mark": {"type": "point", "shape": "square", "size": 56, "filled": true, "opacity": 1}, "encoding": {"x": {"field": "t", "type": "quantitative"}, "y": {"field": "temp", "type": "quantitative"}, "color": {"field": "series", "type": "nominal", "scale": {"domain": ["Ta"], "range": ["#7f7f7f"]}, "legend": {"orient": "none", "title": null, "legendX": 409.7, "legendY": 125, "symbolType": "M-1,-0.08L1,-0.08L1,0.08L-1,0.08ZM-0.22,-0.22L0.22,-0.22L0.22,0.22L-0.22,0.22Z", "labelExpr": "'TsurfTaD60'"}}}},
  {"transform": [{"filter": "datum.series==='meas'"}], "mark": {"type": "line", "strokeWidth": 2.5, "color": "#595959"}, "encoding": {"x": {"field": "t", "type": "quantitative"}, "y": {"field": "temp", "type": "quantitative"}}},
  {"transform": [{"filter": "datum.series==='meas'"}], "mark": {"type": "point", "shape": "circle", "size": 64, "filled": true, "opacity": 1}, "encoding": {"x": {"field": "t", "type": "quantitative"}, "y": {"field": "temp", "type": "quantitative"}, "color": {"field": "series", "type": "nominal", "scale": {"domain": ["meas"], "range": ["#595959"]}, "legend": {"orient": "none", "title": null, "legendX": 409.7, "legendY": 148.7, "symbolType": "M-1,-0.08L1,-0.08L1,0.08L-1,0.08ZM0.24,0A0.24,0.24,0,1,1,-0.24,0A0.24,0.24,0,1,1,0.24,0Z", "labelExpr": "'TsurfmeasD60'"}}}},
  {"transform": [{"filter": "datum.series==='Tsoil'"}], "mark": {"type": "line", "strokeWidth": 2.5}, "encoding": {"x": {"field": "t", "type": "quantitative"}, "y": {"field": "temp", "type": "quantitative"}, "color": {"field": "series", "type": "nominal", "scale": {"domain": ["Tsoil"], "range": ["#b3b3b3"]}, "legend": {"orient": "none", "title": null, "legendX": 409.7, "legendY": 172.3, "labelExpr": "'TsurfTsoilD60'"}}}}
 ]
}
]},
{"spacing": 32, "bounds": "flush", "vconcat": [
{"width": 573, "height": 324,
 "title": {"text": "(e)", "orient": "bottom", "anchor": "middle", "dx": 17.4, "offset": 2},
 "data": {"name": "e"},
 "transform": [{"fold": ["Ta", "meas", "Tsoil"], "as": ["series", "temp"]}],
 "resolve": {"scale": {"color": "independent"}, "legend": {"color": "independent"}},
 "layer": [
  {"transform": [{"filter": "datum.series==='Ta'"}], "mark": {"type": "line", "strokeWidth": 2.5, "color": "#7f7f7f"}, "encoding": {
   "x": {"field": "t", "type": "quantitative", "scale": {"domain": [-13.28, 72.54], "nice": false, "zero": false}, "axis": {"title": "Local time (half hour)", "offset": -75.3, "values": [1,4,7,10,13,16,19,22,25,28,31,34,37,40,43,46], "tickCount": 48, "labelOverlap": false, "labelPadding": 17, "titleX": 297.3, "titleY": 47.6, "titleBaseline": "middle", "titleFontSize": 18}},
   "y": {"field": "temp", "type": "quantitative", "scale": {"domain": [-21.21, 70.06], "nice": false, "zero": false}, "axis": {"title": ["Estimated and measured soil", "surface temperature (⁰C)"], "offset": -92, "values": [0,10,20,30,40,50,60], "titleX": -76.7, "titleY": 147.2, "titleBaseline": "middle", "titleAngle": -90, "titleFontSize": 16.8, "titleLineHeight": 29}}}},
  {"transform": [{"filter": "datum.t===1 && datum.series==='Ta'"}], "mark": {"type": "rule", "strokeWidth": 1, "color": "#c0c0c0"}, "encoding": {"x": {"datum": 0.5, "type": "quantitative"}, "y": {"datum": 0, "type": "quantitative"}, "y2": {"datum": 60}}},
  {"transform": [{"filter": "datum.t===1 && datum.series==='Ta'"}], "mark": {"type": "rule", "strokeWidth": 1, "color": "#c0c0c0"}, "encoding": {"x": {"datum": 0.5, "type": "quantitative"}, "x2": {"datum": 48.5}, "y": {"datum": 0, "type": "quantitative"}}},
  {"transform": [{"filter": "datum.series==='Ta'"}], "mark": {"type": "point", "shape": "square", "size": 56, "filled": true, "opacity": 1}, "encoding": {"x": {"field": "t", "type": "quantitative"}, "y": {"field": "temp", "type": "quantitative"}, "color": {"field": "series", "type": "nominal", "scale": {"domain": ["Ta"], "range": ["#7f7f7f"]}, "legend": {"orient": "none", "title": null, "legendX": 426.5, "legendY": 145.7, "symbolType": "M-1,-0.08L1,-0.08L1,0.08L-1,0.08ZM-0.22,-0.22L0.22,-0.22L0.22,0.22L-0.22,0.22Z", "labelExpr": "'TsurfTaD62'"}}}},
  {"transform": [{"filter": "datum.series==='meas'"}], "mark": {"type": "line", "strokeWidth": 2.5, "color": "#595959"}, "encoding": {"x": {"field": "t", "type": "quantitative"}, "y": {"field": "temp", "type": "quantitative"}}},
  {"transform": [{"filter": "datum.series==='meas'"}], "mark": {"type": "point", "shape": "circle", "size": 64, "filled": true, "opacity": 1}, "encoding": {"x": {"field": "t", "type": "quantitative"}, "y": {"field": "temp", "type": "quantitative"}, "color": {"field": "series", "type": "nominal", "scale": {"domain": ["meas"], "range": ["#595959"]}, "legend": {"orient": "none", "title": null, "legendX": 426.5, "legendY": 172.7, "symbolType": "M-1,-0.08L1,-0.08L1,0.08L-1,0.08ZM0.24,0A0.24,0.24,0,1,1,-0.24,0A0.24,0.24,0,1,1,0.24,0Z", "labelExpr": "'TsurfmeasD62'"}}}},
  {"transform": [{"filter": "datum.series==='Tsoil'"}], "mark": {"type": "line", "strokeWidth": 2.5}, "encoding": {"x": {"field": "t", "type": "quantitative"}, "y": {"field": "temp", "type": "quantitative"}, "color": {"field": "series", "type": "nominal", "scale": {"domain": ["Tsoil"], "range": ["#b3b3b3"]}, "legend": {"orient": "none", "title": null, "legendX": 426.5, "legendY": 200, "labelExpr": "'TsurfTsoilD62'"}}}}
 ]
},
{"width": 573, "height": 291,
 "title": {"text": "(f)", "orient": "bottom", "anchor": "middle", "dx": 14.5, "offset": 2},
 "data": {"name": "f"},
 "transform": [{"fold": ["Ta", "meas", "Tsoil"], "as": ["series", "temp"]}],
 "resolve": {"scale": {"color": "independent"}, "legend": {"color": "independent"}},
 "layer": [
  {"transform": [{"filter": "datum.series==='Ta'"}], "mark": {"type": "line", "strokeWidth": 2.5, "color": "#7f7f7f"}, "encoding": {
   "x": {"field": "t", "type": "quantitative", "scale": {"domain": [-12.82, 72.92], "nice": false, "zero": false}, "axis": {"title": "Local time (half hour)", "offset": -63.3, "values": [1,4,7,10,13,16,19,22,25,28,31,34,37,40,43,46], "tickCount": 48, "labelOverlap": false, "labelPadding": 14.5, "titleX": 272.5, "titleY": 41.6, "titleBaseline": "middle", "titleFontSize": 18}},
   "y": {"field": "temp", "type": "quantitative", "scale": {"domain": [-20.02, 72.02], "nice": false, "zero": false}, "axis": {"title": ["Estimated and measured soil", "surface temperature (⁰C)"], "offset": -89, "values": [0,10,20,30,40,50,60], "titleX": -73.1, "titleY": 137.9, "titleBaseline": "middle", "titleAngle": -90, "titleFontSize": 15, "titleLineHeight": 24}}}},
  {"transform": [{"filter": "datum.t===1 && datum.series==='Ta'"}], "mark": {"type": "rule", "strokeWidth": 1, "color": "#c0c0c0"}, "encoding": {"x": {"datum": 0.5, "type": "quantitative"}, "y": {"datum": 0, "type": "quantitative"}, "y2": {"datum": 60}}},
  {"transform": [{"filter": "datum.t===1 && datum.series==='Ta'"}], "mark": {"type": "rule", "strokeWidth": 1, "color": "#c0c0c0"}, "encoding": {"x": {"datum": 0.5, "type": "quantitative"}, "x2": {"datum": 48.5}, "y": {"datum": 0, "type": "quantitative"}}},
  {"transform": [{"filter": "datum.series==='Ta'"}], "mark": {"type": "point", "shape": "square", "size": 56, "filled": true, "opacity": 1}, "encoding": {"x": {"field": "t", "type": "quantitative"}, "y": {"field": "temp", "type": "quantitative"}, "color": {"field": "series", "type": "nominal", "scale": {"domain": ["Ta"], "range": ["#7f7f7f"]}, "legend": {"orient": "none", "title": null, "legendX": 427.5, "legendY": 130.7, "symbolType": "M-1,-0.08L1,-0.08L1,0.08L-1,0.08ZM-0.22,-0.22L0.22,-0.22L0.22,0.22L-0.22,0.22Z", "labelExpr": "'TsurfTaD64'"}}}},
  {"transform": [{"filter": "datum.series==='meas'"}], "mark": {"type": "line", "strokeWidth": 2.5, "color": "#595959"}, "encoding": {"x": {"field": "t", "type": "quantitative"}, "y": {"field": "temp", "type": "quantitative"}}},
  {"transform": [{"filter": "datum.series==='meas'"}], "mark": {"type": "point", "shape": "circle", "size": 64, "filled": true, "opacity": 1}, "encoding": {"x": {"field": "t", "type": "quantitative"}, "y": {"field": "temp", "type": "quantitative"}, "color": {"field": "series", "type": "nominal", "scale": {"domain": ["meas"], "range": ["#595959"]}, "legend": {"orient": "none", "title": null, "legendX": 427.5, "legendY": 155, "symbolType": "M-1,-0.08L1,-0.08L1,0.08L-1,0.08ZM0.24,0A0.24,0.24,0,1,1,-0.24,0A0.24,0.24,0,1,1,0.24,0Z", "labelExpr": "'TsurfmeasD64'"}}}},
  {"transform": [{"filter": "datum.series==='Tsoil'"}], "mark": {"type": "line", "strokeWidth": 2.5}, "encoding": {"x": {"field": "t", "type": "quantitative"}, "y": {"field": "temp", "type": "quantitative"}, "color": {"field": "series", "type": "nominal", "scale": {"domain": ["Tsoil"], "range": ["#b3b3b3"]}, "legend": {"orient": "none", "title": null, "legendX": 427.5, "legendY": 179.7, "labelExpr": "'TsurfTsoilD64'"}}}}
 ]
},
{"width": 573, "height": 292,
 "title": {"text": "(g)", "orient": "bottom", "anchor": "middle", "dx": 19, "offset": 2},
 "data": {"name": "g"},
 "transform": [{"fold": ["Ta", "meas", "Tsoil"], "as": ["series", "temp"]}],
 "resolve": {"scale": {"color": "independent"}, "legend": {"color": "independent"}},
 "layer": [
  {"transform": [{"filter": "datum.series==='Ta'"}], "mark": {"type": "line", "strokeWidth": 2.5, "color": "#7f7f7f"}, "encoding": {
   "x": {"field": "t", "type": "quantitative", "scale": {"domain": [-13.28, 72.54], "nice": false, "zero": false}, "axis": {"title": "Local time (half hour)", "offset": -66.7, "values": [1,4,7,10,13,16,19,22,25,28,31,34,37,40,43,46], "tickCount": 48, "labelOverlap": false, "labelPadding": 15.5, "titleX": 234.5, "titleY": 44.4, "titleBaseline": "middle", "titleFontSize": 18}},
   "y": {"field": "temp", "type": "quantitative", "scale": {"domain": [-20.92, 70.66], "nice": false, "zero": false}, "axis": {"title": ["Estimated and measured soil", "surface temperature (⁰C)"], "offset": -92, "values": [0,10,20,30,40,50,60], "titleX": -76.1, "titleY": 134.7, "titleBaseline": "middle", "titleAngle": -90, "titleFontSize": 15.2, "titleLineHeight": 23}}}},
  {"transform": [{"filter": "datum.t===1 && datum.series==='Ta'"}], "mark": {"type": "rule", "strokeWidth": 1, "color": "#c0c0c0"}, "encoding": {"x": {"datum": 0.5, "type": "quantitative"}, "y": {"datum": 0, "type": "quantitative"}, "y2": {"datum": 60}}},
  {"transform": [{"filter": "datum.t===1 && datum.series==='Ta'"}], "mark": {"type": "rule", "strokeWidth": 1, "color": "#c0c0c0"}, "encoding": {"x": {"datum": 0.5, "type": "quantitative"}, "x2": {"datum": 48.5}, "y": {"datum": 0, "type": "quantitative"}}},
  {"transform": [{"filter": "datum.series==='Ta'"}], "mark": {"type": "point", "shape": "square", "size": 56, "filled": true, "opacity": 1}, "encoding": {"x": {"field": "t", "type": "quantitative"}, "y": {"field": "temp", "type": "quantitative"}, "color": {"field": "series", "type": "nominal", "scale": {"domain": ["Ta"], "range": ["#7f7f7f"]}, "legend": {"orient": "none", "title": null, "legendX": 426.5, "legendY": 131, "symbolType": "M-1,-0.08L1,-0.08L1,0.08L-1,0.08ZM-0.22,-0.22L0.22,-0.22L0.22,0.22L-0.22,0.22Z", "labelExpr": "'TsurfTaD66'"}}}},
  {"transform": [{"filter": "datum.series==='meas'"}], "mark": {"type": "line", "strokeWidth": 2.5, "color": "#595959"}, "encoding": {"x": {"field": "t", "type": "quantitative"}, "y": {"field": "temp", "type": "quantitative"}}},
  {"transform": [{"filter": "datum.series==='meas'"}], "mark": {"type": "point", "shape": "circle", "size": 64, "filled": true, "opacity": 1}, "encoding": {"x": {"field": "t", "type": "quantitative"}, "y": {"field": "temp", "type": "quantitative"}, "color": {"field": "series", "type": "nominal", "scale": {"domain": ["meas"], "range": ["#595959"]}, "legend": {"orient": "none", "title": null, "legendX": 426.5, "legendY": 155.3, "symbolType": "M-1,-0.08L1,-0.08L1,0.08L-1,0.08ZM0.24,0A0.24,0.24,0,1,1,-0.24,0A0.24,0.24,0,1,1,0.24,0Z", "labelExpr": "'TsurfmeasD66'"}}}},
  {"transform": [{"filter": "datum.series==='Tsoil'"}], "mark": {"type": "line", "strokeWidth": 2.5}, "encoding": {"x": {"field": "t", "type": "quantitative"}, "y": {"field": "temp", "type": "quantitative"}, "color": {"field": "series", "type": "nominal", "scale": {"domain": ["Tsoil"], "range": ["#b3b3b3"]}, "legend": {"orient": "none", "title": null, "legendX": 426.5, "legendY": 180, "labelExpr": "'TsurfTsoilD66'"}}}}
 ]
},
{"width": 573, "height": 256,
 "title": {"text": "(h)", "orient": "bottom", "anchor": "middle", "dx": 17.4, "offset": 2},
 "data": {"name": "h"},
 "transform": [{"fold": ["Ta", "meas", "Tsoil"], "as": ["series", "temp"]}],
 "resolve": {"scale": {"color": "independent"}, "legend": {"color": "independent"}},
 "layer": [
  {"transform": [{"filter": "datum.series==='Ta'"}], "mark": {"type": "line", "strokeWidth": 2.5, "color": "#7f7f7f"}, "encoding": {
   "x": {"field": "t", "type": "quantitative", "scale": {"domain": [-13.98, 72.08], "nice": false, "zero": false}, "axis": {"title": "Local time (half hour)", "offset": -56, "values": [1,4,7,10,13,16,19,22,25,28,31,34,37,40,43,46], "tickCount": 48, "labelOverlap": false, "labelPadding": 13, "titleX": 252.4, "titleY": 39, "titleBaseline": "middle", "titleFontSize": 18}},
   "y": {"field": "temp", "type": "quantitative", "scale": {"domain": [-20.09, 71.73], "nice": false, "zero": false}, "axis": {"title": ["Estimated and measured soil", "surface temperature (⁰C)"], "offset": -96.4, "values": [0,10,20,30,40,50,60], "titleX": -77, "titleY": 121.4, "titleBaseline": "middle", "titleAngle": -90, "titleFontSize": 13.5, "titleLineHeight": 22}}}},
  {"transform": [{"filter": "datum.t===1 && datum.series==='Ta'"}], "mark": {"type": "rule", "strokeWidth": 1, "color": "#c0c0c0"}, "encoding": {"x": {"datum": 0.5, "type": "quantitative"}, "y": {"datum": 0, "type": "quantitative"}, "y2": {"datum": 60}}},
  {"transform": [{"filter": "datum.t===1 && datum.series==='Ta'"}], "mark": {"type": "rule", "strokeWidth": 1, "color": "#c0c0c0"}, "encoding": {"x": {"datum": 0.5, "type": "quantitative"}, "x2": {"datum": 48.5}, "y": {"datum": 0, "type": "quantitative"}}},
  {"transform": [{"filter": "datum.series==='Ta'"}], "mark": {"type": "point", "shape": "square", "size": 56, "filled": true, "opacity": 1}, "encoding": {"x": {"field": "t", "type": "quantitative"}, "y": {"field": "temp", "type": "quantitative"}, "color": {"field": "series", "type": "nominal", "scale": {"domain": ["Ta"], "range": ["#7f7f7f"]}, "legend": {"orient": "none", "title": null, "legendX": 426.5, "legendY": 113.7, "symbolType": "M-1,-0.08L1,-0.08L1,0.08L-1,0.08ZM-0.22,-0.22L0.22,-0.22L0.22,0.22L-0.22,0.22Z", "labelExpr": "'TsurfTaD67'"}}}},
  {"transform": [{"filter": "datum.series==='meas'"}], "mark": {"type": "line", "strokeWidth": 2.5, "color": "#595959"}, "encoding": {"x": {"field": "t", "type": "quantitative"}, "y": {"field": "temp", "type": "quantitative"}}},
  {"transform": [{"filter": "datum.series==='meas'"}], "mark": {"type": "point", "shape": "circle", "size": 64, "filled": true, "opacity": 1}, "encoding": {"x": {"field": "t", "type": "quantitative"}, "y": {"field": "temp", "type": "quantitative"}, "color": {"field": "series", "type": "nominal", "scale": {"domain": ["meas"], "range": ["#595959"]}, "legend": {"orient": "none", "title": null, "legendX": 426.5, "legendY": 135.3, "symbolType": "M-1,-0.08L1,-0.08L1,0.08L-1,0.08ZM0.24,0A0.24,0.24,0,1,1,-0.24,0A0.24,0.24,0,1,1,0.24,0Z", "labelExpr": "'TsurfmeasD67'"}}}},
  {"transform": [{"filter": "datum.series==='Tsoil'"}], "mark": {"type": "line", "strokeWidth": 2.5}, "encoding": {"x": {"field": "t", "type": "quantitative"}, "y": {"field": "temp", "type": "quantitative"}, "color": {"field": "series", "type": "nominal", "scale": {"domain": ["Tsoil"], "range": ["#b3b3b3"]}, "legend": {"orient": "none", "title": null, "legendX": 426.5, "legendY": 157, "labelExpr": "'TsurfTsoilD67'"}}}}
 ]
},
{"width": 573, "height": 279,
 "title": {"text": "(i)", "orient": "bottom", "anchor": "middle", "dx": 22, "offset": 2},
 "data": {"name": "i"},
 "transform": [{"fold": ["Ta", "meas", "Tsoil"], "as": ["series", "temp"]}],
 "resolve": {"scale": {"color": "independent"}, "legend": {"color": "independent"}},
 "layer": [
  {"transform": [{"filter": "datum.series==='Ta'"}], "mark": {"type": "line", "strokeWidth": 2.5, "color": "#7f7f7f"}, "encoding": {
   "x": {"field": "t", "type": "quantitative", "scale": {"domain": [-12.57, 73.72], "nice": false, "zero": false}, "axis": {"title": "Local time (half hour)", "offset": -65.7, "values": [1,4,7,10,13,16,19,22,25,28,31,34,37,40,43,46], "tickCount": 48, "labelOverlap": false, "labelPadding": 14, "titleX": 264.1, "titleY": 40, "titleBaseline": "middle", "titleFontSize": 18}},
   "y": {"field": "temp", "type": "quantitative", "scale": {"domain": [-21.63, 70.2], "nice": false, "zero": false}, "axis": {"title": ["Estimated and measured soil", "surface temperature (⁰C)"], "offset": -86.8, "values": [0,10,20,30,40,50,60], "titleX": -70.5, "titleY": 127.2, "titleBaseline": "middle", "titleAngle": -90, "titleFontSize": 14.6, "titleLineHeight": 24}}}},
  {"transform": [{"filter": "datum.t===1 && datum.series==='Ta'"}], "mark": {"type": "rule", "strokeWidth": 1, "color": "#c0c0c0"}, "encoding": {"x": {"datum": 0.5, "type": "quantitative"}, "y": {"datum": 0, "type": "quantitative"}, "y2": {"datum": 60}}},
  {"transform": [{"filter": "datum.t===1 && datum.series==='Ta'"}], "mark": {"type": "rule", "strokeWidth": 1, "color": "#c0c0c0"}, "encoding": {"x": {"datum": 0.5, "type": "quantitative"}, "x2": {"datum": 48.5}, "y": {"datum": 0, "type": "quantitative"}}},
  {"transform": [{"filter": "datum.series==='Ta'"}], "mark": {"type": "point", "shape": "square", "size": 56, "filled": true, "opacity": 1}, "encoding": {"x": {"field": "t", "type": "quantitative"}, "y": {"field": "temp", "type": "quantitative"}, "color": {"field": "series", "type": "nominal", "scale": {"domain": ["Ta"], "range": ["#7f7f7f"]}, "legend": {"orient": "none", "title": null, "legendX": 426.5, "legendY": 125, "symbolType": "M-1,-0.08L1,-0.08L1,0.08L-1,0.08ZM-0.22,-0.22L0.22,-0.22L0.22,0.22L-0.22,0.22Z", "labelExpr": "'TsurfTaD68'"}}}},
  {"transform": [{"filter": "datum.series==='meas'"}], "mark": {"type": "line", "strokeWidth": 2.5, "color": "#595959"}, "encoding": {"x": {"field": "t", "type": "quantitative"}, "y": {"field": "temp", "type": "quantitative"}}},
  {"transform": [{"filter": "datum.series==='meas'"}], "mark": {"type": "point", "shape": "circle", "size": 64, "filled": true, "opacity": 1}, "encoding": {"x": {"field": "t", "type": "quantitative"}, "y": {"field": "temp", "type": "quantitative"}, "color": {"field": "series", "type": "nominal", "scale": {"domain": ["meas"], "range": ["#595959"]}, "legend": {"orient": "none", "title": null, "legendX": 426.5, "legendY": 147.3, "symbolType": "M-1,-0.08L1,-0.08L1,0.08L-1,0.08ZM0.24,0A0.24,0.24,0,1,1,-0.24,0A0.24,0.24,0,1,1,0.24,0Z", "labelExpr": "'TsurfmeasD68'"}}}},
  {"transform": [{"filter": "datum.series==='Tsoil'"}], "mark": {"type": "line", "strokeWidth": 2.5}, "encoding": {"x": {"field": "t", "type": "quantitative"}, "y": {"field": "temp", "type": "quantitative"}, "color": {"field": "series", "type": "nominal", "scale": {"domain": ["Tsoil"], "range": ["#b3b3b3"]}, "legend": {"orient": "none", "title": null, "legendX": 426.5, "legendY": 170.7, "labelExpr": "'TsurfTsoilD68'"}}}}
 ]
}
]}
]
}
